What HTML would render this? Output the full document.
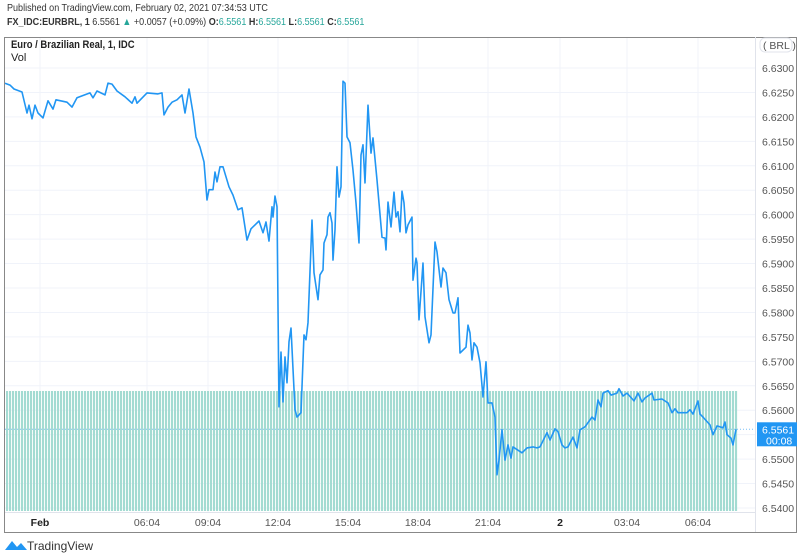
<!DOCTYPE html>
<html><head><meta charset="utf-8">
<style>
body{margin:0;width:800px;height:560px;background:#fff;font-family:"Liberation Sans",sans-serif;overflow:hidden;position:relative}
.t{position:absolute;white-space:nowrap}
.sq{transform-origin:0 0;transform:scaleX(0.86)}
</style></head>
<body>
<div class="t sq" style="left:7px;top:2px;font-size:10.5px;color:#333">Published on TradingView.com, February 02, 2021 07:34:53 UTC</div>
<div class="t sq" style="left:7px;top:16px;font-size:10.5px;color:#333"><b>FX_IDC:EURBRL, 1</b> 6.5561 <span style="color:#26a69a">▲</span> +0.0057 (+0.09%) <b>O:</b><span style="color:#26a69a">6.5561</span> <b>H:</b><span style="color:#26a69a">6.5561</span> <b>L:</b><span style="color:#26a69a">6.5561</span> <b>C:</b><span style="color:#26a69a">6.5561</span></div>
<svg id="chart" width="800" height="560" style="position:absolute;left:0;top:0" xmlns="http://www.w3.org/2000/svg"></svg>
<div class="t sq" style="left:11px;top:39px;font-size:11px;font-weight:bold;color:#222">Euro / Brazilian Real, 1, IDC</div>
<div class="t" style="left:11px;top:52px;font-size:11px;color:#222">Vol</div>
<div class="t" style="left:5px;top:539px;font-size:12px;color:#333"><svg width="22" height="12" style="vertical-align:-1px"><path d="M0 11 L7 2 L12 8 L16 4 L22 11 Z" fill="#2196f3"/></svg>TradingView</div>
<script>
const idx=[0,5,9,17,22,24,27,30,33,38,43,48,51,62,67,72,85,88,92,100,103,107,112,120,127,130,132,142,153,157,159,163,167,172,177,180,184,188,191,195,199,202,204,208,210,212,215,218,224,228,233,237,242,246,250,254,258,261,264,267,268,270,272,274,276,278,280,282,284,286,290,292,296,299,301,303,307,309,313,315,318,319,322,323,325,327,328,330,332,334,336,338,340,342,345,348,351,354,356,358,360,363,366,368,372,377,380,381,383,386,389,391,393,395,397,399,401,403,407,408,411,412,414,418,420,424,426,430,432,436,438,441,444,448,450,453,455,461,463,465,467,469,472,475,478,481,483,487,490,492,494,497,500,503,506,508,517,522,528,532,535,542,545,550,553,557,560,563,568,572,575,580,587,590,593,596,598,603,606,612,614,618,622,629,633,637,640,647,649,657,663,667,670,673,682,685,688,693,695,698,705,708,712,718,720,722,726,728,731];
const price=[6.6269,6.6265,6.6257,6.6251,6.6208,6.6224,6.6196,6.6224,6.6208,6.6198,6.6233,6.6216,6.6235,6.6230,6.6220,6.6239,6.6249,6.6239,6.6253,6.6245,6.6269,6.6267,6.6253,6.6241,6.6228,6.6241,6.6228,6.6249,6.6247,6.6249,6.6204,6.6220,6.6230,6.6235,6.6245,6.6208,6.6257,6.6208,6.6159,6.6138,6.6108,6.6030,6.6051,6.6051,6.6087,6.6067,6.6098,6.6098,6.6057,6.6040,6.6010,6.6014,6.5948,6.5971,6.5979,6.5987,6.5963,6.5985,6.5946,6.6016,6.5995,6.6038,6.6016,6.5607,6.5719,6.5617,6.5709,6.5656,6.5740,6.5768,6.5601,6.5586,6.5595,6.5754,6.5744,6.5779,6.5989,6.5881,6.5826,6.5877,6.5887,6.5942,6.5959,6.5995,6.6004,6.5983,6.5907,6.5969,6.6098,6.6036,6.6057,6.6273,6.6269,6.6159,6.6147,6.6091,6.6024,6.5942,6.6122,6.6143,6.6065,6.6224,6.6126,6.6157,6.6071,6.5954,6.5952,6.5928,6.6026,6.5975,6.6046,6.5995,6.6006,6.5965,6.6048,6.6024,6.5963,6.5979,6.5995,6.5866,6.5911,6.5901,6.5785,6.5901,6.5791,6.5738,6.5754,6.5944,6.5924,6.5852,6.5891,6.5881,6.5826,6.5799,6.5799,6.5830,6.5717,6.5729,6.5774,6.5758,6.5703,6.5738,6.5729,6.5697,6.5627,6.5699,6.5615,6.5615,6.5586,6.5468,6.5498,6.5560,6.5498,6.5529,6.5502,6.5525,6.5513,6.5523,6.5525,6.5523,6.5525,6.5554,6.5539,6.5562,6.5556,6.5529,6.5523,6.5525,6.5545,6.5523,6.5560,6.5566,6.5586,6.5580,6.5621,6.5607,6.5635,6.5640,6.5631,6.5635,6.5644,6.5629,6.5635,6.5619,6.5635,6.5617,6.5625,6.5635,6.5621,6.5623,6.5615,6.5595,6.5603,6.5595,6.5595,6.5601,6.5592,6.5619,6.5592,6.5586,6.5570,6.5550,6.5568,6.5564,6.5576,6.5550,6.5543,6.5529,6.5561];
const yTicks=[6.6300,6.6250,6.6200,6.6150,6.6100,6.6050,6.6000,6.5950,6.5900,6.5850,6.5800,6.5750,6.5700,6.5650,6.5600,6.5550,6.5500,6.5450,6.5400];
const xTickLabels=["Feb","06:04","09:04","12:04","15:04","18:04","21:04","2","03:04","06:04"];
const xTickIdx=[35,142,203,273,343,413,483,555,622,693];
const volCount=244;
const volValue=1;
const lastPrice=6.5561;

const svg=document.getElementById('chart');
const NS='http://www.w3.org/2000/svg';
const X=i=>5+i*1.0;
const Y=p=>68+(6.63-p)/0.09*440;
function mk(t,a){const e=document.createElementNS(NS,t);for(const k in a)e.setAttribute(k,a[k]);svg.appendChild(e);return e;}
yTicks.forEach(v=>{const g=mk('line',{x1:5,x2:755,y1:Y(v),y2:Y(v),stroke:'#f0f3fa','stroke-width':1});

});
xTickIdx.forEach(i=>{const g=mk('line',{x1:X(i),x2:X(i),y1:37,y2:512,stroke:'#f0f3fa','stroke-width':1});

});
const vTop=391,vBot=511;
for(let k=0;k<volCount;k++){const h=(vBot-vTop)*volValue;const r=mk('rect',{x:6+k*3,y:vBot-h,width:2.1,height:h,fill:'#a3dbd2'});

}
const dl=mk('line',{x1:5,x2:755,y1:Y(lastPrice),y2:Y(lastPrice),stroke:'#2196f3','stroke-width':1,'stroke-dasharray':'1,2',opacity:0.6});


const pl=mk('polyline',{points:idx.map((i,k)=>X(i).toFixed(1)+','+Y(price[k]).toFixed(1)).join(' '),fill:'none',stroke:'#2196f3','stroke-width':1.6,'stroke-linejoin':'round'});


const fr=mk('rect',{x:4.5,y:37.5,width:792,height:495,fill:'none',stroke:'#888','stroke-width':1});


const sep=mk('line',{x1:755.5,x2:755.5,y1:37,y2:532,stroke:'#e0e3eb'});


const sep2=mk('line',{x1:5,x2:755,y1:512.5,y2:512.5,stroke:'#e0e3eb'});


yTicks.forEach(v=>{const t=mk('text',{x:762,y:Y(v)+4,'font-size':10.5,fill:'#555','font-family':'Liberation Sans, sans-serif'});t.textContent=v.toFixed(4);

});
const cb=mk('rect',{x:760,y:38,width:32,height:14,rx:5,fill:'#fff',stroke:'#e0e3eb'});


const ct=mk('text',{x:763,y:49,'font-size':10.5,fill:'#555','font-family':'Liberation Sans, sans-serif'});ct.textContent='( BRL )';


xTickLabels.forEach((s,k)=>{const t=mk('text',{x:X(xTickIdx[k]),y:526,'font-size':10.5,fill:s==='Feb'||s==='2'?'#222':'#555','font-weight':s==='Feb'||s==='2'?'bold':'normal','text-anchor':'middle','font-family':'Liberation Sans, sans-serif'});t.textContent=s;

});
const by=Y(lastPrice);
const bb=mk('rect',{x:757,y:by-7,width:40,height:24,fill:'#2196f3'});


const b1=mk('text',{x:762,y:by+4,'font-size':10.5,fill:'#fff','font-family':'Liberation Sans, sans-serif'});b1.textContent=lastPrice.toFixed(4);


const b2=mk('text',{x:766,y:by+15,'font-size':10.5,fill:'#fff','font-family':'Liberation Sans, sans-serif'});b2.textContent='00:08';


</script>
</body></html>
